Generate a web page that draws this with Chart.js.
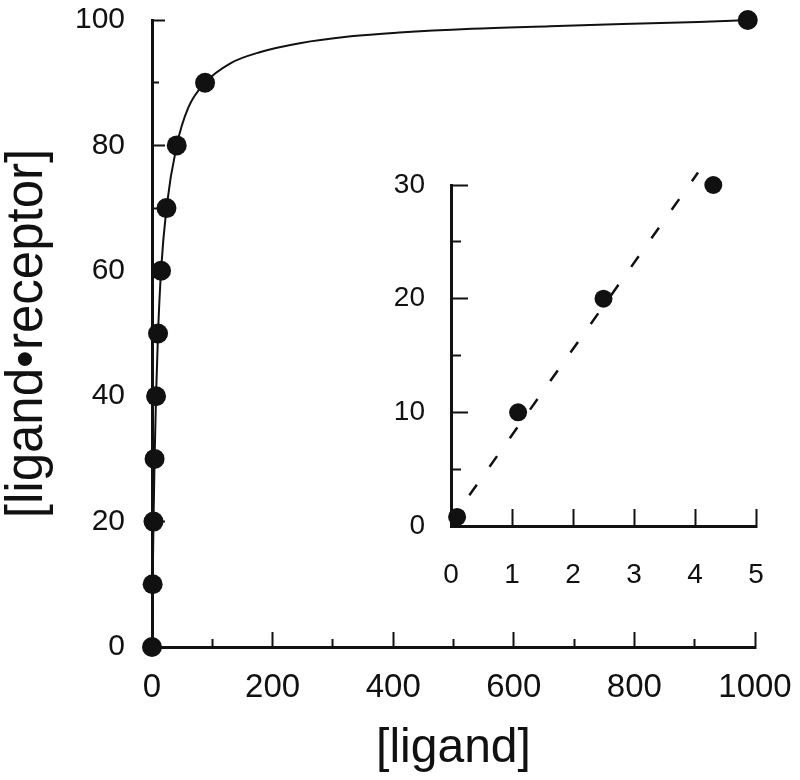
<!DOCTYPE html>
<html>
<head>
<meta charset="utf-8">
<script src="https://cdn.jsdelivr.net/npm/chart.js@4/dist/chart.umd.min.js"></script>
<style>
  body { margin: 0; background: #fff; }
  #wrap { position: relative; width: 800px; height: 780px; }
  #main { position: absolute; left: 0; top: 0; }
  #inset { position: absolute; left: 380px; top: 160px; }
</style>
</head>
<body>
<div id="wrap">
  <canvas id="main" width="800" height="780"></canvas>
  <canvas id="inset" width="420" height="440"></canvas>
</div>
<script>
// binding data
const ligand = [0, 1.1, 2.5, 4.3, 6.7, 10, 15, 24, 41, 88, 988];
const bound = [0, 10, 20, 30, 40, 50, 60, 70, 80, 90, 100];

// fitted curve
const curveX = [0, 1.1, 2.5, 4.3, 6.7, 10, 15, 24, 41, 60, 88, 130, 180, 245, 330, 410, 530, 660, 780, 906, 988];
const curveY = [0, 10, 20, 30, 40, 50, 60, 70, 80, 86, 90, 93.1, 94.9, 96.3, 97.4, 98, 98.6, 99, 99.35, 99.7, 100];

// inset: low ligand range
const insetLigand = [0.1, 1.1, 2.5, 4.3];
const insetBound = [0.8, 10, 20, 30];
const dashX = [0.3, 4.05];
const dashY = [2.7, 31.1];

// tick positions
const xMajor = [0, 200, 400, 600, 800, 1000];
const xMinor = [100, 300, 500, 700, 900];
const yMajor = [0, 20, 40, 60, 80, 100];
const yMinor = [10, 30, 50, 70, 90];
const insetXTicks = [0, 1, 2, 3, 4, 5];
const insetYMajor = [0, 10, 20, 30];
const insetYMinor = [5, 15, 25];

const black = '#111';
const fam = "'Liberation Sans', Arial, sans-serif";
const pts = (xs, ys) => xs.map((x, i) => ({ x: x, y: ys[i] }));
const setTicks = arr => s => { s.ticks = arr.map(v => ({ value: v })); };

// axis with ticks pointing into the plot, fixed size, no label padding
function tickAxis(pos, min, max, ticks, len, size, weight, extra) {
    return Object.assign({
        type: 'linear', position: pos, min: min, max: max, weight: weight,
        afterBuildTicks: setTicks(ticks),
        afterFit: s => {
            if (pos === 'left') s.width = size; else s.height = size;
            s.paddingTop = s.paddingBottom = s.paddingLeft = s.paddingRight = 0;
        },
        grid: { drawOnChartArea: false, tickLength: -len, tickWidth: 2, tickColor: black },
        border: { display: false },
        ticks: { display: false }
    }, extra || {});
}

const common = {
    responsive: false,
    animation: false,
    devicePixelRatio: 1,
    plugins: { legend: { display: false }, tooltip: { enabled: false } }
};

new Chart(document.getElementById('main'), {
    type: 'scatter',
    data: {
        datasets: [{
            data: pts(ligand, bound),
            pointRadius: 10,
            pointBackgroundColor: black,
            pointBorderWidth: 0,
            clip: false
        }, {
            data: pts(curveX, curveY),
            showLine: true,
            pointRadius: 0,
            borderColor: black,
            borderWidth: 2,
            cubicInterpolationMode: 'monotone',
            clip: false
        }]
    },
    options: Object.assign({}, common, {
        layout: { padding: { top: 20, right: 45, left: 0, bottom: 0 } },
        scales: {
            x: tickAxis('bottom', 0, 1000, xMajor, 15, 133, 1, {
                border: { color: black, width: 3 },
                ticks: { padding: 36, color: black, font: { family: fam, size: 33 }, callback: v => String(v) },
                title: {
                    display: true, text: '[ligand]', color: black,
                    font: { family: fam, size: 48, lineHeight: 1 },
                    padding: { top: 0, bottom: 7 }
                }
            }),
            xMin: tickAxis('bottom', 0, 1000, xMinor, 8, 0, 0),
            y: tickAxis('left', 0, 100, yMajor, 13, 152, 1, {
                border: { color: black, width: 3 },
                ticks: { padding: 40, color: black, font: { family: fam, size: 30 }, callback: v => String(v) },
                title: {
                    display: true, text: '[ligand•receptor]', color: black,
                    font: { family: fam, size: 51, lineHeight: 1 },
                    padding: { top: 2, bottom: 0 }
                }
            }),
            yMin: tickAxis('left', 0, 100, yMinor, 7, 0, 0)
        }
    })
});

new Chart(document.getElementById('inset'), {
    type: 'scatter',
    data: {
        datasets: [{
            data: pts(insetLigand, insetBound),
            pointRadius: 9,
            pointBackgroundColor: black,
            pointBorderWidth: 0,
            clip: false
        }, {
            data: pts(dashX, dashY),
            showLine: true,
            pointRadius: 0,
            borderColor: black,
            borderWidth: 2.5,
            borderDash: [13, 22],
            clip: false
        }]
    },
    options: Object.assign({}, common, {
        layout: { padding: { top: 25, right: 44, left: 0, bottom: 0 } },
        scales: {
            x: tickAxis('bottom', 0, 5, insetXTicks, 17, 74, 1, {
                border: { color: black, width: 3 },
                ticks: { padding: 49, color: black, font: { family: fam, size: 28 }, callback: v => String(v) }
            }),
            y: tickAxis('left', 0, 30, insetYMajor, 17, 71, 1, {
                border: { color: black, width: 3 },
                ticks: { padding: 43, color: black, font: { family: fam, size: 28 }, callback: v => String(v) }
            }),
            yMin: tickAxis('left', 0, 30, insetYMinor, 10, 0, 0)
        }
    })
});
</script>
</body>
</html>
